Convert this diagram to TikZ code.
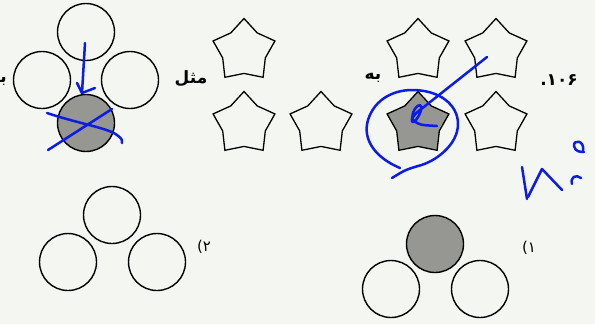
\documentclass[tikz,border=0pt]{standalone}
\usepackage{fontspec}
\usepackage{xcolor}
\usepackage{tikz}
\usetikzlibrary{
    shapes.geometric,
    arrows.meta
}
\TeXXeTstate=1
\newfontfamily\arabicfont[Script=Arabic]{DejaVu Sans}
\definecolor{paper}{RGB}{244,246,241}
\definecolor{ballgray}{RGB}{150,150,146}
\definecolor{penblue}{RGB}{12,28,232}
\tikzset{
  ball/.style    = {circle, draw, line width=1.4bp, minimum size=57bp,
                    inner sep=0pt},
  sball/.style   = {ball, fill=ballgray},
  starbox/.style = {star, star points=5, star point ratio=1.45, draw,
                    line width=1.3bp, minimum size=65bp, inner sep=0pt},
  sstar/.style   = {starbox, fill=ballgray},
  word/.style    = {inner sep=0pt, font=\arabicfont\bfseries\fontsize{17}{19}\selectfont},
  opt/.style     = {inner sep=0pt, font=\arabicfont\fontsize{15}{17}\selectfont},
  pen/.style     = {penblue, line width=2.5bp, line cap=round, line join=round}
}

\begin{document}
\begin{tikzpicture}[x=1bp, y=-1bp]

% --- PAGE ---
\path[use as bounding box, fill=paper] (0,0) rectangle (595,324);

% --- EXAMPLE: FOUR BALLS ---
\node[ball]  (ex_top)   at (86,32)  {};
\node[ball]  (ex_left)  at (42,80)  {};
\node[ball]  (ex_right) at (130,80) {};
\node[sball] (ex_bot)   at (86,123) {};

% --- STARS ---
\node[starbox] (st_a) at (244,51)  {};
\node[starbox] (st_b) at (244,124) {};
\node[starbox] (st_c) at (321,124) {};
\node[starbox] (st_d) at (418,51)  {};
\node[starbox] (st_e) at (496,51)  {};
\node[sstar]   (st_f) at (418,124) {};
\node[starbox] (st_g) at (496,124) {};

% --- TEXTS ---
\node[word, anchor=east] (be_cut) at (7,81) {\beginR به\endR};
\node[word] (mesl) at (191,79) {\beginR مثل\endR};
\node[word] (be)   at (373,78) {\beginR به\endR};
\node[word] (qnum) at (559,80) {۱۰۶.};

% --- CHOICE 2 ---
\node[ball] (c2_top)   at (112,215) {};
\node[ball] (c2_left)  at (68,262)  {};
\node[ball] (c2_right) at (157,262) {};
\node[opt]  (opt2)     at (204,247) {۲)};

% --- CHOICE 1 ---
\node[sball] (c1_top)   at (435,244) {};
\node[ball]  (c1_left)  at (391,289) {};
\node[ball]  (c1_right) at (480,289) {};
\node[opt]   (opt1)     at (529,248) {۱)};

% --- PEN MARKS ---
\draw[pen] (85,43) -- (82,93);
\draw[pen] (77,83) -- (82,93) -- (95,88);
\draw[pen] (47,113) .. controls (80,124) and (108,128) .. (117,135)
           .. controls (122,139) .. (122,143);
\draw[pen] (48,150) -- (112,109);
\draw[pen] (400,168) .. controls (376,158) and (362,140) .. (368,120)
           .. controls (375,98) and (395,90) .. (412,90)
           .. controls (440,90) and (458,105) .. (458,124)
           .. controls (458,145) and (435,162) .. (418,166)
           .. controls (405,170) .. (392,178);
\draw[pen] (487,57) -- (420,110)
           .. controls (410,117) and (410,125) .. (415,121)
           .. controls (419,117) and (424,106) .. (420,105)
           .. controls (414,106) and (410,118) .. (414,121)
           .. controls (420,125) .. (437,126);
\draw[pen] (522,167) -- (527,199);
\draw[pen] (528,197) -- (542,169) -- (562,190);
\draw[pen] (581,178) .. controls (576,174) and (570,177) .. (572,184);
\draw[pen] (583,151) .. controls (585,140) and (573,139) .. (574,146)
           .. controls (575,152) and (581,152) .. (584,152);
\end{tikzpicture}
\end{document}
